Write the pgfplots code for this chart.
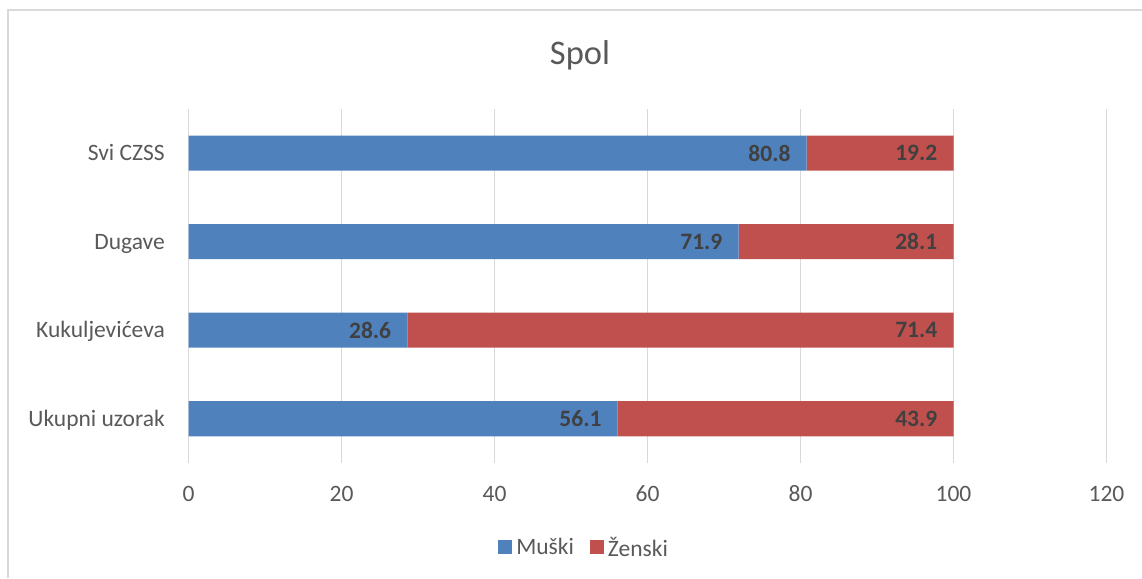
\documentclass[border=0pt]{standalone}
\usepackage{fontspec}
\setmainfont{Carlito}
\usepackage{pgfplots}
\pgfplotsset{compat=1.18}
\definecolor{mblue}{HTML}{4F81BD}
\definecolor{mred}{HTML}{C0504D}
\definecolor{textgray}{HTML}{595959}
\definecolor{labelgray}{HTML}{404040}
\definecolor{gridgray}{HTML}{D9D9D9}
\pgfplotsset{
  chartgeom/.style={
    at={(188.5pt,115pt)}, anchor=south west,
    scale only axis, width=918pt, height=354pt,
    xmin=0, xmax=120, ymin=-0.5, ymax=3.5,
  }
}
\begin{document}
\begin{tikzpicture}
\useasboundingbox (0pt,0pt) rectangle (1142pt,578pt);
\draw[gridgray, line width=1.2pt] (8pt,0pt) -- (8pt,568pt) -- (1142pt,568pt);
\node[font=\fontsize{34.5}{40}\selectfont, text=textgray, anchor=base, inner sep=0pt] at (580pt,513.7pt) {Spol};
\begin{axis}[
  chartgeom,
  xbar stacked, bar width=35pt,
  xtick={0,20,...,120},
  ytick={0,1,2,3},
  yticklabels={Ukupni uzorak, Kukuljevićeva, Dugave, Svi CZSS},
  xmajorgrids, ymajorgrids=false,
  grid style={draw=gridgray, line width=1.6pt},
  axis line style={draw=none},
  major tick length=0pt,
  /pgf/number format/assume math mode=true,
  ticklabel style={font=\fontsize{23.5}{28}\selectfont, text=textgray, inner sep=0pt},
  xticklabel style={anchor=base, yshift=-38.5pt},
  yticklabel style={anchor=base east, xshift=-23.5pt, yshift=-7.6pt},
  legend style={at={(axis description cs:0.432,-0.2387)}, anchor=center, draw=none, fill=none,
     legend columns=2, font=\fontsize{23.5}{28}\selectfont, text=textgray,
     nodes={inner xsep=4pt, inner ysep=0pt},
     /tikz/every even column/.append style={column sep=12pt}},
  legend image code/.code={\fill[#1] (0pt,-7pt) rectangle (14pt,7pt);},
]
\addplot[fill=mblue, draw=none] table[x=v, y=c] {
c v
0 56.1
1 28.6
2 71.9
3 80.8
};
\addlegendentry{Muški}
\addplot[fill=mred, draw=none] table[x=v, y=c] {
c v
0 43.9
1 71.4
2 28.1
3 19.2
};
\addlegendentry{Ženski}
\end{axis}
\begin{axis}[
  chartgeom,
  hide axis,
  clip=false,
  /pgf/number format/assume math mode=true,
  point meta=explicit,
  nodes near coords={\pgfmathprintnumber[fixed, precision=1, fixed zerofill]{\pgfplotspointmeta}},
  nodes near coords style={anchor=east, xshift=-16pt, inner sep=0pt,
     font=\bfseries\fontsize{23.5}{28}\selectfont, text=labelgray},
]
\addplot[only marks, mark=none] table[x=e, y=c, meta=v] {
c e v
0 56.1 56.1
1 28.6 28.6
2 71.9 71.9
3 80.8 80.8
0 100 43.9
1 100 71.4
2 100 28.1
3 100 19.2
};
\end{axis}
\end{tikzpicture}
\end{document}
